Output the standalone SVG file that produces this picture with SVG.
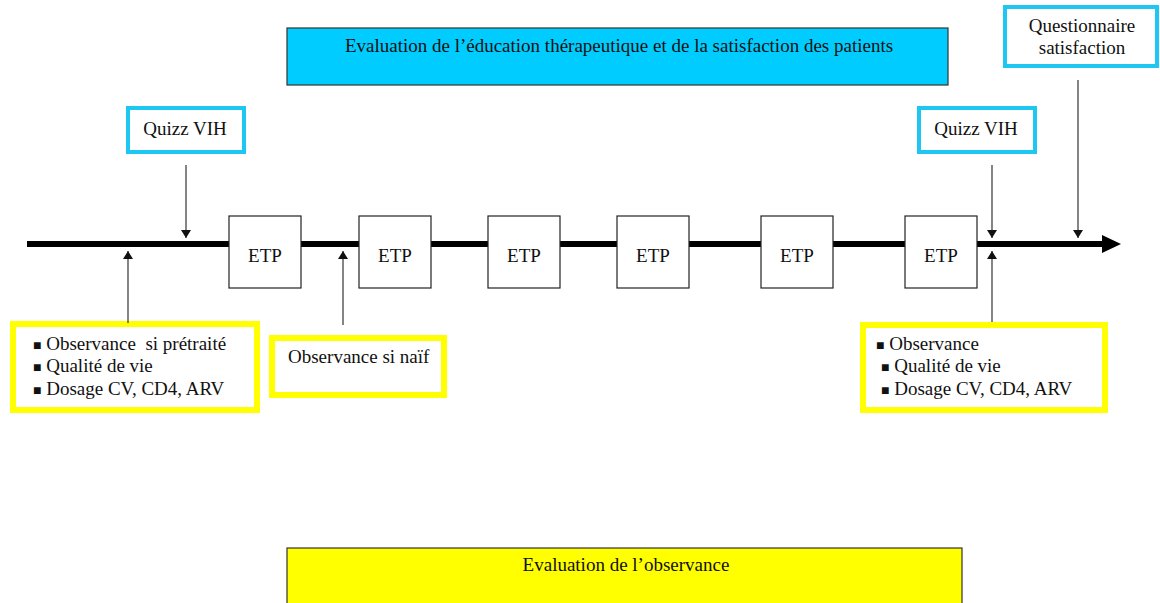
<svg xmlns="http://www.w3.org/2000/svg" width="1160" height="603" viewBox="0 0 1160 603">
<style>
text{font-family:"Liberation Serif","Times New Roman",serif;fill:#111;font-size:19px;white-space:pre}
.c{text-anchor:middle}
.b{font-size:14px}
.etp{fill:#fff;stroke:#222;stroke-width:1.2}
.cy{fill:#fff;stroke:#1ec6f2;stroke-width:4}
.ye{fill:#fff;stroke:#ffff00;stroke-width:6}
.conn{stroke:#333;stroke-width:1.2;fill:none;marker-end:url(#ah)}
</style>
<defs>
<marker id="ah" markerWidth="8" markerHeight="10" refX="8" refY="5" orient="auto" markerUnits="userSpaceOnUse">
<path d="M0,0 L8,5 L0,10 Z" fill="#111"/>
</marker>
</defs>
<rect width="1160" height="603" fill="#fff"/>
<g id="timeline">
<line x1="27" y1="244" x2="1104" y2="244" stroke="#000" stroke-width="6"/>
<path d="M1102,235 L1121,244 L1102,253 Z" fill="#000"/>
</g>
<g id="eval-etp">
<rect x="287" y="28" width="661" height="57" fill="#00ccff" stroke="#333" stroke-width="1.2"/>
<text class="c" x="619" y="52">Evaluation de l’éducation thérapeutique et de la satisfaction des patients</text>
</g>
<g id="questionnaire">
<rect x="1005" y="7" width="152" height="59" class="cy"/>
<text class="c" x="1082" y="32">Questionnaire</text>
<text class="c" x="1082" y="54">satisfaction</text>
</g>
<g id="quizz1">
<rect x="128" y="108" width="116" height="44" class="cy"/>
<text class="c" x="185" y="135">Quizz VIH</text>
</g>
<g id="quizz2">
<rect x="919" y="108" width="116" height="44" class="cy"/>
<text class="c" x="976" y="135">Quizz VIH</text>
</g>
<g id="etp1"><rect x="229" y="216" width="72" height="72" class="etp"/><text class="c" x="265" y="262">ETP</text></g>
<g id="etp2"><rect x="359" y="216" width="72" height="72" class="etp"/><text class="c" x="395" y="262">ETP</text></g>
<g id="etp3"><rect x="488" y="216" width="72" height="72" class="etp"/><text class="c" x="524" y="262">ETP</text></g>
<g id="etp4"><rect x="617" y="216" width="72" height="72" class="etp"/><text class="c" x="653" y="262">ETP</text></g>
<g id="etp5"><rect x="761" y="216" width="72" height="72" class="etp"/><text class="c" x="797" y="262">ETP</text></g>
<g id="etp6"><rect x="905" y="216" width="72" height="72" class="etp"/><text class="c" x="941" y="262">ETP</text></g>
<g id="obs1">
<rect x="13" y="324" width="244" height="86" class="ye"/>
<text x="33" y="350"><tspan class="b">■</tspan> Observance  si prétraité</text>
<text x="33" y="372"><tspan class="b">■</tspan> Qualité de vie</text>
<text x="33" y="395"><tspan class="b">■</tspan> Dosage CV, CD4, ARV</text>
</g>
<g id="obs-naif">
<rect x="272" y="338" width="172" height="57" class="ye"/>
<text x="288" y="363">Observance si naïf</text>
</g>
<g id="obs2">
<rect x="863" y="325" width="242" height="85" class="ye"/>
<text x="876" y="350"><tspan class="b">■</tspan> Observance</text>
<text x="881" y="372"><tspan class="b">■</tspan> Qualité de vie</text>
<text x="881" y="395"><tspan class="b">■</tspan> Dosage CV, CD4, ARV</text>
</g>
<g id="eval-obs">
<rect x="287" y="548" width="675" height="70" fill="#ffff00" stroke="#333" stroke-width="1.2"/>
<text class="c" x="626" y="571">Evaluation de l’observance</text>
</g>
<g id="connectors">
<line class="conn" x1="186" y1="165" x2="186" y2="238"/>
<line class="conn" x1="128" y1="323" x2="128" y2="251"/>
<line class="conn" x1="343" y1="325" x2="343" y2="251"/>
<line class="conn" x1="992" y1="165" x2="992" y2="238"/>
<line class="conn" x1="992" y1="322" x2="992" y2="251"/>
<line class="conn" x1="1078" y1="80" x2="1078" y2="238"/>
</g>
</svg>
